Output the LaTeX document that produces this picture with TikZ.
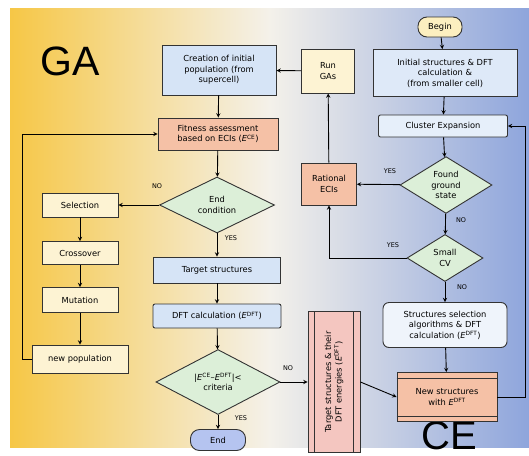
\documentclass[tikz,border=0pt]{standalone}
\usepackage{fontspec}
\setmainfont{DejaVu Sans}
\newfontfamily\bigfont{Liberation Sans}
\usetikzlibrary{shapes.geometric}
\definecolor{gagold}{HTML}{F6C746}
\definecolor{midwhite}{HTML}{F4F1EA}
\definecolor{ceblue}{HTML}{8EA5DC}
\definecolor{gastep}{HTML}{FDF3D3}
\definecolor{lightblue}{HTML}{D6E4F6}
\definecolor{salmon}{HTML}{F5C1A6}
\definecolor{diagreen}{HTML}{DCEFD8}
\definecolor{endblue}{HTML}{B5C4F0}
\definecolor{beginyel}{HTML}{FCEFC0}
\definecolor{pinkbox}{HTML}{F4C6C0}
\newcommand{\Ece}{\textit{E}\textsuperscript{CE}}
\newcommand{\Edft}{\textit{E}\textsuperscript{DFT}}

\begin{document}
\begin{tikzpicture}[x=1pt, y=-1pt, >=stealth, line width=0.9pt,
  font=\fontsize{8.3}{10.5}\selectfont,
  box/.style = {draw=black!80, align=center, inner sep=1pt},
  gabox/.style = {box, fill=gastep, minimum width=76pt},
  dia/.style = {draw=black!80, diamond, fill=diagreen, align=center, inner sep=0pt},
  term/.style = {box, rounded corners=9pt},
  lbl/.style = {font=\fontsize{6.5}{7}\selectfont}]
        \useasboundingbox (0,0) rectangle (529,455);
        \shade[left color=gagold, right color=ceblue, middle color=midwhite] (10,8) rectangle (529,447);
        \node[anchor=base, inner sep=0pt] (ga) at (70,75) {\bigfont\fontsize{41}{41}\selectfont GA};
        \node[anchor=base, inner sep=0pt] (ce) at (449,449) {\bigfont\fontsize{40}{40}\selectfont CE};
        \coordinate (ll) at (22,0);
        \coordinate (rr) at (525,0);
        \node[box, fill=lightblue, minimum width=114pt, minimum height=50pt] (creation) at (219,70) {Creation of initial\\population (from\\supercell)};
        \node[box, fill=salmon, minimum width=120pt, minimum height=32pt] (fitness) at (218,134) {Fitness assessment\\based on ECIs (\Ece)};
        \node[dia, minimum width=115pt, minimum height=56pt] (endcond) at (217,205) {End\\condition};
        \node[gabox, minimum height=24pt] (selection) at (80,205) {Selection};
        \node[gabox, minimum height=23pt] (crossover) at (80,253) {Crossover};
        \node[gabox, minimum height=25pt] (mutation) at (80,300) {Mutation};
        \node[gabox, minimum width=96pt, minimum height=28pt] (newpop) at (80,359) {new population};
        \node[box, fill=lightblue, minimum width=127pt, minimum height=26pt] (target) at (217,270) {Target structures};
        \node[box, fill=lightblue, rounded corners=2pt, minimum width=128pt, minimum height=24pt] (dft) at (217,316) {DFT calculation (\Edft)};
        \node[dia, minimum width=124pt, minimum height=55pt] (criteria) at (218,382) {|\Ece--\Edft|<\\criteria};
        \node[term, fill=endblue, minimum width=55pt, minimum height=21pt] (end) at (218,440) {End};
        \node[box, fill=gastep, minimum width=53pt, minimum height=44pt] (rungas) at (328,71) {Run\\GAs};
        \node[box, fill=salmon, minimum width=55pt, minimum height=42pt] (rational) at (329,184) {Rational\\ECIs};
        \node[term, fill=beginyel, minimum width=44pt, minimum height=20pt] (begin) at (440,27) {Begin};
        \node[box, fill=lightblue!80!white, minimum width=144pt, minimum height=47pt] (initial) at (445,73) {Initial structures \& DFT\\calculation \&\\(from smaller cell)};
        \node[box, fill=lightblue!60!white, rounded corners=2pt, minimum width=129pt, minimum height=22pt] (cluster) at (443,126) {Cluster Expansion};
        \node[dia, minimum width=92pt, minimum height=56pt] (found) at (446,185) {Found\\ground\\state};
        \node[dia, minimum width=76pt, minimum height=47pt] (smallcv) at (445,258) {Small\\CV};
        \node[box, fill=lightblue!40!white, rounded corners=6pt, minimum width=124pt, minimum height=45pt] (structsel) at (445,325) {Structures selection\\algorithms \& DFT\\calculation (\Edft)};
        \node[box, fill=salmon, minimum width=100pt, minimum height=49pt] (newstruct) at (447,397) {New structures\\with \Edft};
        \node[box, fill=pinkbox, rotate=90, minimum width=141pt, minimum height=52pt] (vbox) at (334,382) {Target structures \& their\\DFT energies (\Edft)};
        \draw[black!80] ([yshift=-6pt]newstruct.north west) -- ([yshift=-6pt]newstruct.north east);
        \draw[black!80] ([yshift=6pt]newstruct.south west) -- ([yshift=6pt]newstruct.south east);
        \draw[black!80] ([xshift=7pt]vbox.north east) -- ([xshift=7pt]vbox.north west);
        \draw[black!80] ([xshift=-7pt]vbox.south east) -- ([xshift=-7pt]vbox.south west);
        \node[lbl] (no1) at (157,186) {NO};
        \node[lbl] (yes1) at (231,238) {YES};
        \node[lbl] (yes2) at (241,418) {YES};
        \node[lbl] (no2) at (288,368) {NO};
        \node[lbl] (yes3) at (390,171) {YES};
        \node[lbl] (no3) at (461,220) {NO};
        \node[lbl] (yes4) at (393,245) {YES};
        \node[lbl] (no4) at (462,287) {NO};
        \draw[->] (creation) -- (fitness);
        \draw[->] (fitness) -- (endcond);
        \draw[->] (endcond) -- (selection);
        \draw[->] (endcond) -- (target);
        \draw[->] (selection) -- (crossover);
        \draw[->] (crossover) -- (mutation);
        \draw[->] (mutation) -- (newpop);
        \draw[->] (newpop.west) -- (newpop.west -| ll) |- (fitness.west);
        \draw[->] (target) -- (dft);
        \draw[->] (dft) -- (criteria);
        \draw[->] (criteria) -- (end);
        \draw[->] (criteria.east) -- (criteria.east -| vbox.north);
        \draw[->] (vbox.south |- criteria.east) -- (newstruct.west);
        \draw[->] (begin) -- (initial);
        \draw[->] (initial) -- (cluster);
        \draw[->] (cluster) -- (found);
        \draw[->] (found) -- (rational);
        \draw[->] (found) -- (smallcv);
        \draw[->] (smallcv.west) -| (rational.south);
        \draw[->] (smallcv) -- (structsel);
        \draw[->] (structsel) -- (newstruct);
        \draw[->] (newstruct.east) -- (newstruct.east -| rr) |- (cluster.east);
        \draw[->] (rational) -- (rungas);
        \draw[->] (rungas) -- (creation);
\end{tikzpicture}
\end{document}
